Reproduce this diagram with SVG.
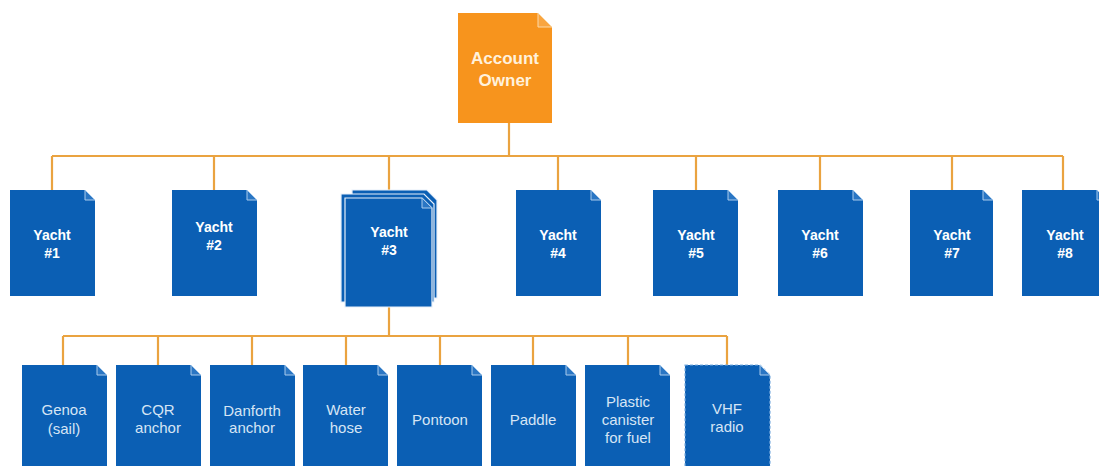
<svg xmlns="http://www.w3.org/2000/svg" width="1099" height="466" viewBox="0 0 1099 466">
<style>
.bg{fill:#ffffff}
.conn{stroke:#eaa340;stroke-width:2.2;fill:none}
.page{fill:#0b5fb4}
.stack{fill:#0b5fb4;stroke:#e8f0fa;stroke-width:1.2}
.fold{fill:#2a76c4;stroke:#a9cbec;stroke-width:1}
.owner{fill:#f7941d}
.ofold{fill:#f9a540;stroke:#fcd9a8;stroke-width:1}
.dash{fill:#0b5fb4;stroke:#7fb0e0;stroke-width:1.2;stroke-dasharray:3 2}
.t{font-family:"Liberation Sans",Arial,sans-serif;text-anchor:middle}
.ty{font-size:14px;font-weight:bold;fill:#ffffff}
.to{font-size:17px;font-weight:bold;fill:#fff1dc}
.tb{font-size:15px;fill:#d6e5f5}
</style>
<rect class="bg" x="0" y="0" width="1099" height="466"/>
<g id="connectors">
<path class="conn" d="M509 123 V156 M52 156 H1063 M52 156 V190 M214 156 V190 M389 156 V190 M558 156 V190 M696 156 V190 M820 156 V190 M952 156 V190 M1063 156 V190"/>
<path class="conn" d="M389 307 V336 M63 336 H727 M63 336 V365 M158 336 V365 M252 336 V365 M346 336 V365 M440 336 V365 M533 336 V365 M628 336 V365 M727 336 V365"/>
</g>
<g id="owner">
<path class="owner" d="M458 13 H538 L552 27 V123 H458 Z"/>
<path class="ofold" d="M538 13 V27 H552 Z"/>
<text class="t to" x="505" y="64">Account</text>
<text class="t to" x="505" y="86">Owner</text>
</g>
<g id="yacht1">
<path class="page" d="M10 190 H85 L95 200 V296 H10 Z"/><path class="fold" d="M85 190 V200 H95 Z"/>
<text class="t ty" x="52" y="240">Yacht</text><text class="t ty" x="52" y="258">#1</text>
</g>
<g id="yacht2">
<path class="page" d="M172 190 H247 L257 200 V296 H172 Z"/><path class="fold" d="M247 190 V200 H257 Z"/>
<text class="t ty" x="214" y="232">Yacht</text><text class="t ty" x="214" y="250">#2</text>
</g>
<g id="yacht3">
<path class="stack" d="M352 190 H427 L437 200 V298 H352 Z"/>
<path class="stack" d="M341 194 H424 L434 204 V302 H341 Z"/>
<path class="stack" d="M345 198 H422 L432 208 V307 H345 Z"/><path class="fold" d="M422 198 V208 H432 Z"/>
<text class="t ty" x="389" y="237">Yacht</text><text class="t ty" x="389" y="255">#3</text>
</g>
<g id="yacht4">
<path class="page" d="M516 190 H591 L601 200 V296 H516 Z"/><path class="fold" d="M591 190 V200 H601 Z"/>
<text class="t ty" x="558" y="240">Yacht</text><text class="t ty" x="558" y="258">#4</text>
</g>
<g id="yacht5">
<path class="page" d="M653 190 H728 L738 200 V296 H653 Z"/><path class="fold" d="M728 190 V200 H738 Z"/>
<text class="t ty" x="696" y="240">Yacht</text><text class="t ty" x="696" y="258">#5</text>
</g>
<g id="yacht6">
<path class="page" d="M778 190 H853 L863 200 V296 H778 Z"/><path class="fold" d="M853 190 V200 H863 Z"/>
<text class="t ty" x="820" y="240">Yacht</text><text class="t ty" x="820" y="258">#6</text>
</g>
<g id="yacht7">
<path class="page" d="M910 190 H983 L993 200 V296 H910 Z"/><path class="fold" d="M983 190 V200 H993 Z"/>
<text class="t ty" x="952" y="240">Yacht</text><text class="t ty" x="952" y="258">#7</text>
</g>
<g id="yacht8">
<path class="page" d="M1022 190 H1097 L1107 200 V296 H1022 Z"/><path class="fold" d="M1097 190 V200 H1107 Z"/>
<text class="t ty" x="1065" y="240">Yacht</text><text class="t ty" x="1065" y="258">#8</text>
</g>
<g id="genoa">
<path class="page" d="M22 365 H97 L107 375 V476 H22 Z"/><path class="fold" d="M97 365 V375 H107 Z"/>
<text class="t tb" x="64" y="415">Genoa</text><text class="t tb" x="64" y="434">(sail)</text>
</g>
<g id="cqr">
<path class="page" d="M116 365 H191 L201 375 V476 H116 Z"/><path class="fold" d="M191 365 V375 H201 Z"/>
<text class="t tb" x="158" y="415">CQR</text><text class="t tb" x="158" y="433">anchor</text>
</g>
<g id="danforth">
<path class="page" d="M210 365 H285 L295 375 V476 H210 Z"/><path class="fold" d="M285 365 V375 H295 Z"/>
<text class="t tb" x="252" y="416">Danforth</text><text class="t tb" x="252" y="433">anchor</text>
</g>
<g id="waterhose">
<path class="page" d="M303 365 H378 L388 375 V476 H303 Z"/><path class="fold" d="M378 365 V375 H388 Z"/>
<text class="t tb" x="346" y="415">Water</text><text class="t tb" x="346" y="433">hose</text>
</g>
<g id="pontoon">
<path class="page" d="M397 365 H472 L482 375 V476 H397 Z"/><path class="fold" d="M472 365 V375 H482 Z"/>
<text class="t tb" x="440" y="425">Pontoon</text>
</g>
<g id="paddle">
<path class="page" d="M491 365 H566 L576 375 V476 H491 Z"/><path class="fold" d="M566 365 V375 H576 Z"/>
<text class="t tb" x="533" y="425">Paddle</text>
</g>
<g id="plastic">
<path class="page" d="M585 365 H660 L670 375 V476 H585 Z"/><path class="fold" d="M660 365 V375 H670 Z"/>
<text class="t tb" x="628" y="407">Plastic</text><text class="t tb" x="628" y="425">canister</text><text class="t tb" x="628" y="443">for fuel</text>
</g>
<g id="vhf">
<path class="dash" d="M685 365 H760 L770 375 V476 H685 Z"/><path class="fold" d="M760 365 V375 H770 Z"/>
<text class="t tb" x="727" y="414">VHF</text><text class="t tb" x="727" y="432">radio</text>
</g>
</svg>
